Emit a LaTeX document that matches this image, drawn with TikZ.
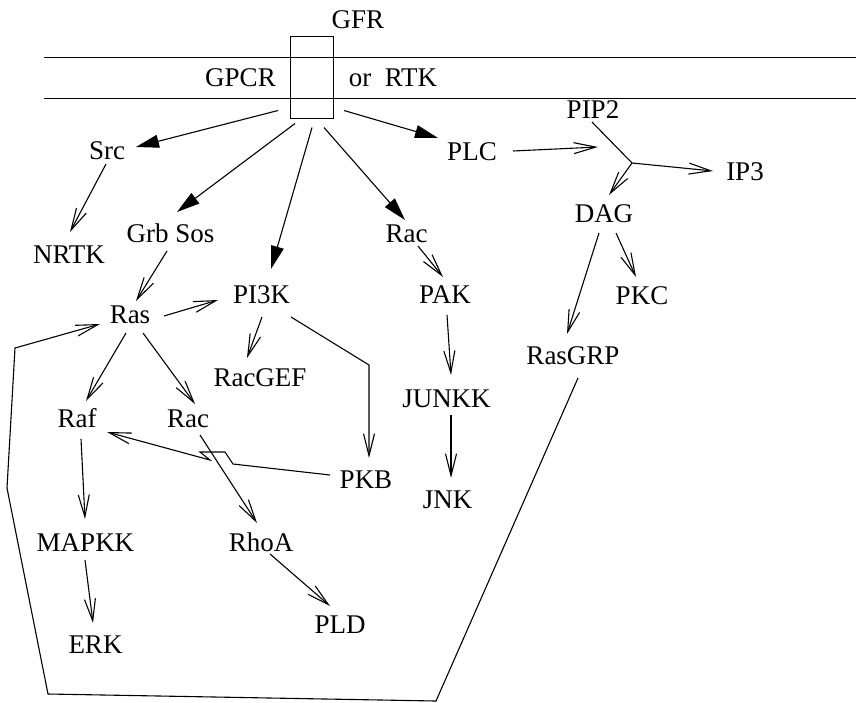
\documentclass[tikz,border=0pt]{standalone}
\usepackage{fontspec}
\setmainfont{Liberation Serif}
\usetikzlibrary{arrows.meta}
\begin{document}
\begin{tikzpicture}[x=1pt,y=-1pt,line width=1.1pt,
  lbl/.style={anchor=base,inner sep=0pt,font=\fontsize{27}{32}\selectfont},
  act/.style={-{Triangle[length=23pt,width=13pt]}},
  lead/.style={-{Straight Barb[length=22pt,width=11pt]}}]
\useasboundingbox (0,0) rectangle (856,702);

% membrane
\coordinate (mTL) at (44,57);  \coordinate (mTR) at (856,57);
\coordinate (mBL) at (44,98);  \coordinate (mBR) at (856,98);
\draw[line width=1pt] (mTL) -- (mTR);
\draw[line width=1pt] (mBL) -- (mBR);
\node[draw,line width=1pt,minimum width=43pt,minimum height=82pt,inner sep=0pt] (rtk) at (311.5,77) {};

% labels
\node[lbl] (GFR)    at (358,28)   {GFR};
\node[lbl] (GPCR)   at (240.5,86) {GPCR};
\node[lbl] (ortk)   at (393,86)   {or\ \ RTK};
\node[lbl] (Src)    at (107,159)  {Src};
\node[lbl] (NRTK)   at (69,263)   {NRTK};
\node[lbl] (PLC)    at (472,160)  {PLC};
\node[lbl] (PIP2)   at (593,118)  {PIP2};
\node[lbl] (IP3)    at (745,180)  {IP3};
\node[lbl] (DAG)    at (604,222)  {DAG};
\node[lbl] (GrbSos) at (170.5,242){Grb Sos};
\node[lbl] (RacA)   at (406.5,242){Rac};
\node[lbl] (PIthreeK) at (261.5,303){PI3K};
\node[lbl] (PAK)    at (445,303)  {PAK};
\node[lbl] (Ras)    at (130,323)  {Ras};
\node[lbl] (PKC)    at (642,304)  {PKC};
\node[lbl] (RasGRP) at (573,364)  {RasGRP};
\node[lbl] (RacGEF) at (260,386)  {RacGEF};
\node[lbl] (JUNKK)  at (446.5,407){JUNKK};
\node[lbl] (Raf)    at (77,427)   {Raf};
\node[lbl] (RacB)   at (188,427)  {Rac};
\node[lbl] (PKB)    at (366,488)  {PKB};
\node[lbl] (JNK)    at (447.5,508){JNK};
\node[lbl] (MAPKK)  at (85.5,551) {MAPKK};
\node[lbl] (RhoA)   at (261,551)  {RhoA};
\node[lbl] (PLD)    at (340,633)  {PLD};
\node[lbl] (ERK)    at (95.5,653) {ERK};

% receptor outputs
\draw[act] ([shift={(-33.5,-8)}]rtk.south) -- ([shift={(29,-12)}]Src.base);
\draw[act] ([shift={(-16.5,5)}]rtk.south) -- ([shift={(6.5,-30)}]GrbSos.base);
\draw[act] ([shift={(0.5,9)}]rtk.south) -- ([shift={(9.5,-34)}]PIthreeK.base);
\draw[act] ([shift={(12.5,9)}]rtk.south) -- ([shift={(-1.5,-22)}]RacA.base);
\draw[act] ([shift={(32.5,-8)}]rtk.south) -- ([shift={(-34,-22)}]PLC.base);

% left branch
\draw[lead] ([shift={(-1,5)}]Src.base) -- ([shift={(1,-31)}]NRTK.base);
\draw[lead] ([shift={(-3.5,9)}]GrbSos.base) -- ([shift={(6,-22)}]Ras.base);
\draw[lead] ([shift={(34,-7)}]Ras.base) -- ([shift={(-43.5,-3)}]PIthreeK.base);
\draw[lead] ([shift={(-4,10)}]Ras.base) -- ([shift={(9,-26)}]Raf.base);
\draw[lead] ([shift={(13,10)}]Ras.base) -- ([shift={(7,-23)}]RacB.base);
\draw[lead] ([shift={(0.5,14)}]PIthreeK.base) -- ([shift={(-13,-28)}]RacGEF.base);
\draw[lead] ([shift={(29.5,14)}]PIthreeK.base) -- ([shift={(3,-123)}]PKB.base)
            -- ([shift={(3,-30)}]PKB.base);
\draw[lead] ([shift={(-36,-13)}]PKB.base) -- ++(-97,-11) -- ++(-8,-12)
            -- ++(-25,0) -- ++(10,8) -- ([shift={(30,5)}]Raf.base);
\draw[lead] ([shift={(12,8)}]RacB.base) -- ([shift={(-4,-28)}]RhoA.base);
\draw[lead] ([shift={(9,3)}]RhoA.base) -- ([shift={(-10,-27)}]PLD.base);
\draw[lead] ([shift={(4,12)}]Raf.base) -- ([shift={(-0.5,-32)}]MAPKK.base);
\draw[lead] ([shift={(-0.5,9)}]MAPKK.base) -- ([shift={(-2.5,-30)}]ERK.base);

% Rac / JNK branch
\draw[lead] ([shift={(11.5,4)}]RacA.base) -- ([shift={(-2,-26)}]PAK.base);
\draw[lead] ([shift={(2,12)}]PAK.base) -- ([shift={(4.5,-32)}]JUNKK.base);
\draw[lead] ([shift={(4.5,8)}]JUNKK.base) -- ([shift={(3.5,-30)}]JNK.base);

% PLC branch
\coordinate (split) at (632,163);
\draw[lead] ([shift={(41,-9)}]PLC.base) -- ([shift={(-34,-16)}]split);
\draw ([shift={(-1,4)}]PIP2.base) -- (split);
\draw[lead] (split) -- ([shift={(-32,-9)}]IP3.base);
\draw[lead] (split) -- ([shift={(5,-27)}]DAG.base);
\draw[lead] ([shift={(-5,11)}]DAG.base) -- ([shift={(-6,-30)}]RasGRP.base);
\draw[lead] ([shift={(12,11)}]DAG.base) -- ([shift={(-6,-27)}]PKC.base);

% RasGRP feedback to Ras
\coordinate (loopA) at (436,701);
\coordinate (loopB) at (48,694);
\coordinate (loopC) at (7,488);
\coordinate (loopD) at (15,348);
\draw[lead] ([shift={(5,14)}]RasGRP.base) -- (loopA) -- (loopB) -- (loopC)
            -- (loopD) -- ([shift={(-30,1)}]Ras.base);
\end{tikzpicture}
\end{document}
